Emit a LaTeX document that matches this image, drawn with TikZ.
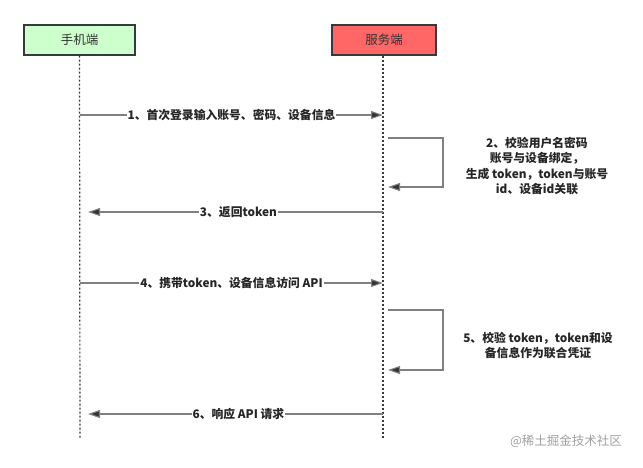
\documentclass[tikz,border=0pt]{standalone}
\usepackage{fontspec}
\setmainfont{Noto Sans CJK SC}
\newfontfamily\cjk{Noto Sans CJK SC}
\usetikzlibrary{arrows.meta}
\definecolor{boxline}{HTML}{36393D}
\definecolor{cgreen}{HTML}{CCFFCC}
\definecolor{cred}{HTML}{FF6666}
\definecolor{msgline}{HTML}{808080}
\definecolor{wm}{HTML}{A0A0A0}
\begin{document}
\begin{tikzpicture}[x=1pt,y=-1pt,
  actor/.style={draw=boxline,line width=1.2pt,minimum height=30pt,font=\cjk\fontsize{12.5}{14}\selectfont,text=black!80},
  lifeline/.style={draw=boxline,line width=1.2pt,dash pattern=on 2pt off 2pt},
  msg/.style={draw=msgline,line width=1.1pt,-{Triangle[length=12pt,width=8pt,fill=black!80]}},
  lbl/.style={fill=white,inner sep=1pt,font=\cjk\bfseries\fontsize{11.8}{15}\selectfont,text=black!85},
  note/.style={inner sep=0pt,align=center,font=\cjk\bfseries\fontsize{11.8}{15.2}\selectfont,text=black!85}]
\useasboundingbox (0,0) rectangle (643,467);
\node[actor,fill=cgreen,minimum width=111pt] (client) at (79.5,40) {手机端};
\node[actor,fill=cred,minimum width=104pt] (server) at (384,40) {服务端};
\coordinate (cend) at (80,438);
\coordinate (send) at (383,438);
\draw[lifeline] (client.south) -- (cend);
\draw[lifeline] (server.south -| send) -- (send);
% message 1
\coordinate (c1) at (80,115); \coordinate (s1) at (383,115);
\draw[msg] (c1) -- node[lbl,pos=0.5]{1、首次登录输入账号、密码、设备信息} (s1);
% self message 2
\coordinate (s2a) at (388,138); \coordinate (s2b) at (443,138);
\coordinate (s2c) at (443,187); \coordinate (s2d) at (388,187);
\draw[msg] (s2a) -- (s2b) -- (s2c) -- (s2d);
\node[note] (n2) at (537,166) {2、校验用户名密码\\账号与设备绑定，\\生成 token，token与账号\\id、设备id关联};
% message 3
\coordinate (s3) at (383,212); \coordinate (c3) at (88,212);
\draw[msg] (s3) -- node[lbl,pos=0.49]{3、返回token} (c3);
% message 4
\coordinate (c4) at (80,283); \coordinate (s4) at (383,283);
\draw[msg] (c4) -- node[lbl,pos=0.5]{4、携带token、设备信息访问 API} (s4);
% self message 5
\coordinate (s5a) at (388,310); \coordinate (s5b) at (443,310);
\coordinate (s5c) at (443,370); \coordinate (s5d) at (388,370);
\draw[msg] (s5a) -- (s5b) -- (s5c) -- (s5d);
\node[note] (n5) at (538,345.5) {5、校验 token，token和设\\备信息作为联合凭证};
% message 6
\coordinate (s6) at (383,414); \coordinate (c6) at (88,414);
\draw[msg] (s6) -- node[lbl,pos=0.49]{6、响应 API 请求} (c6);
% watermark
\node[inner sep=0pt,font=\cjk\fontsize{12.5}{14}\selectfont,text=wm] (wmark) at (566,441) {@稀土掘金技术社区};
\end{tikzpicture}
\end{document}
